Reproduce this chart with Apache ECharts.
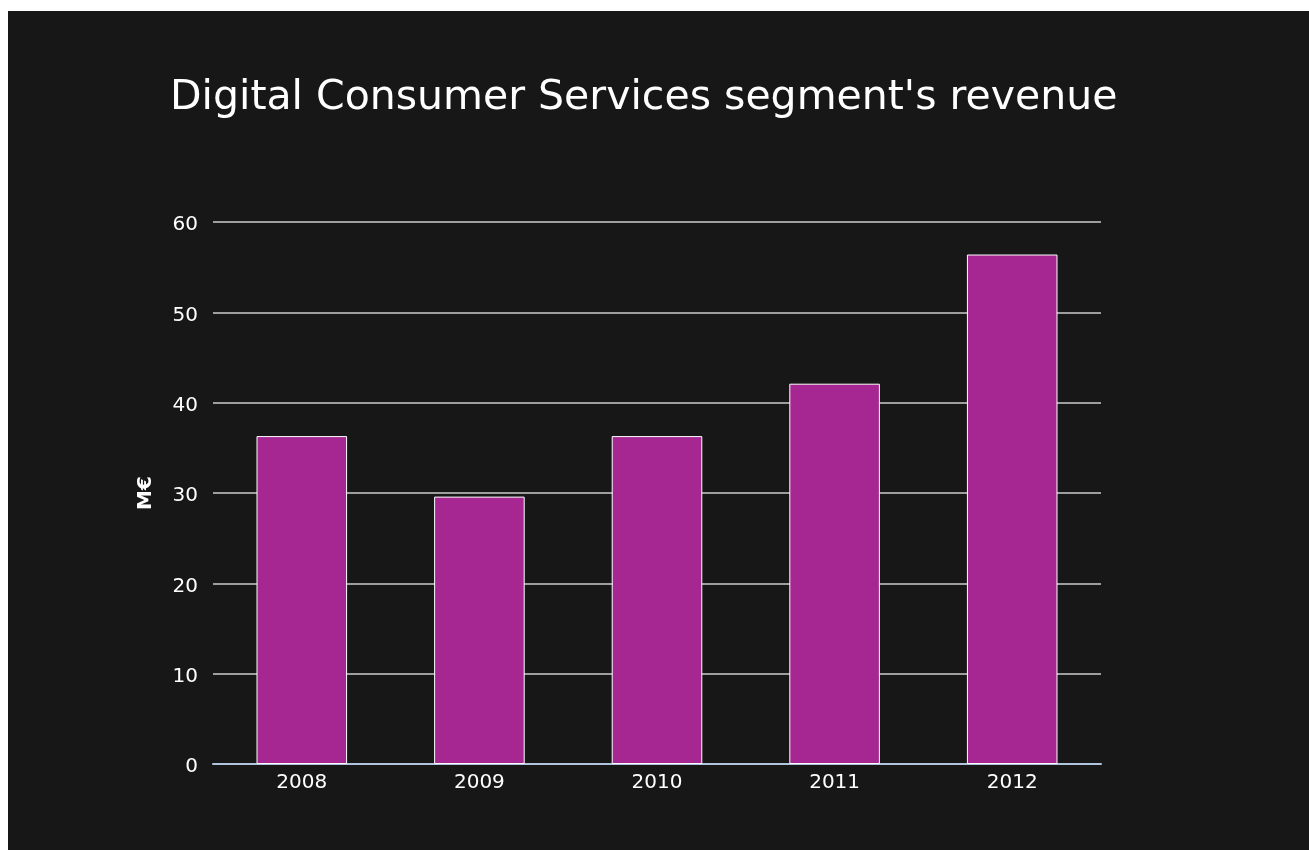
<!DOCTYPE html>
<html>
<head>
<meta charset="utf-8">
<script src="https://cdn.jsdelivr.net/npm/echarts@6/dist/echarts.min.js"></script>
<style>
  html, body { margin: 0; padding: 0; background: #ffffff; overflow: hidden; }
  #chart { position: absolute; left: 8px; top: 11px; width: 1301px; height: 839px; background: #171717; }
</style>
</head>
<body>
<div id="chart"></div>
<script>
// Revenue of the Digital Consumer Services segment, in millions of euros
const years = ['2008', '2009', '2010', '2011', '2012'];
const revenue = [36.3, 29.6, 36.3, 42.1, 56.4];
const yTicks = { min: 0, max: 60, interval: 10 };

const chart = echarts.init(document.getElementById('chart'), null, { renderer: 'canvas' });
chart.setOption({
  backgroundColor: '#171717',
  animation: false,
  textStyle: { fontFamily: 'DejaVu Sans' },
  title: {
    text: "Digital Consumer Services segment's revenue",
    left: 157,
    top: 62,
    textStyle: { color: '#ffffff', fontSize: 41, fontWeight: 'normal', fontFamily: 'DejaVu Sans' }
  },
  grid: { left: 205, right: 208, top: 211, bottom: 86 },
  xAxis: {
    type: 'category',
    data: years,
    axisLine: { show: true, lineStyle: { color: '#b0c4de', width: 2 } },
    axisTick: { show: false },
    axisLabel: { color: '#ffffff', fontSize: 20, margin: 9, fontFamily: 'DejaVu Sans' }
  },
  yAxis: {
    type: 'value',
    min: yTicks.min,
    max: yTicks.max,
    interval: yTicks.interval,
    name: 'M€',
    nameLocation: 'middle',
    nameGap: 57,
    nameTextStyle: { color: '#ffffff', fontSize: 20, fontWeight: 'bold', fontFamily: 'DejaVu Sans' },
    axisLine: { show: false },
    axisTick: { show: false },
    // tick labels sit a few pixels below their grid lines
    axisLabel: { color: '#ffffff', fontSize: 20, margin: 15, verticalAlign: 'top', lineHeight: 6, fontFamily: 'DejaVu Sans' },
    splitLine: { show: true, lineStyle: { color: '#cccccc', width: 1.5 } }
  },
  series: [{
    type: 'bar',
    data: revenue,
    barWidth: '51%',
    itemStyle: { color: '#a62791', borderColor: '#ffffff', borderWidth: 1 }
  }]
});
</script>
</body>
</html>
